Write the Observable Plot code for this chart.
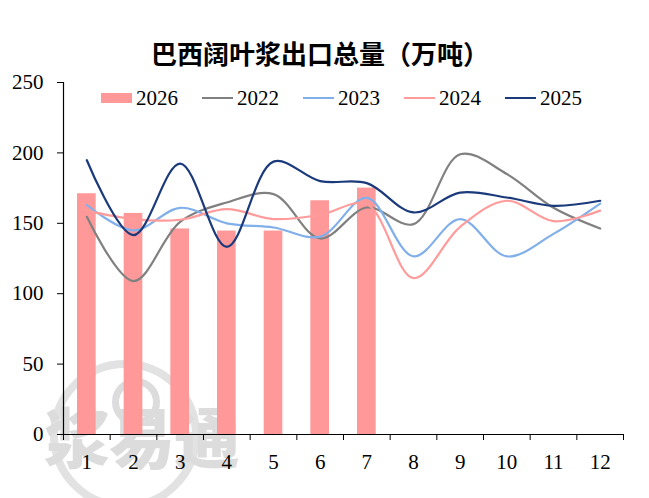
<!DOCTYPE html>
<html>
<head>
<meta charset="utf-8">
<script src="https://cdn.jsdelivr.net/npm/d3@7"></script>
<script src="https://cdn.jsdelivr.net/npm/@observablehq/plot@0.6"></script>
<style>
  html, body { margin: 0; padding: 0; background: #fff; }
  #wrap { position: relative; width: 649px; height: 498px; overflow: hidden; background: #fff; }
  #title { position: absolute; left: 0; width: 640px; top: 38px; text-align: center;
    font-family: "Noto Sans CJK SC", sans-serif; font-weight: bold; font-size: 26px; line-height: 30px; color: #000; z-index: 3; }
  #legend { position: absolute; left: 101px; top: 86px; height: 24px; display: flex; align-items: center; z-index: 3;
    font-family: "Liberation Serif", "Times New Roman", Times, "DejaVu Serif", serif; font-size: 21px; color: #000; }
  .item { display: flex; align-items: center; margin-right: 24px; }
  .sw { width: 31px; margin-right: 4px; }
  .wm { position: absolute; z-index: 0; }
  #wmtext { left: 44px; top: 394px; font-family: "Noto Sans CJK SC", sans-serif; font-weight: 900; font-size: 66px; line-height: 80px;
    color: #dcdcdc; letter-spacing: -1px; }
  #wmcircle { left: 50px; top: 360px; width: 150px; height: 150px; border-radius: 50%; border: 8px solid #e2e2e2; box-sizing: border-box; }
  #wmcircle2 { left: 112px; top: 378px; width: 48px; height: 48px; border-radius: 50%; border: 7px solid #dcdcdc; box-sizing: border-box; }
  #chart { position: absolute; left: 0; top: 0; z-index: 2; }
  #chart svg text { font-family: "Liberation Serif", "Times New Roman", Times, "DejaVu Serif", serif !important; }
</style>
</head>
<body>
<div id="wrap">
  <div class="wm" id="wmcircle"></div>
  <div class="wm" id="wmcircle2"></div>
  <div class="wm" id="wmtext">浆易通</div>
  <div id="title">巴西阔叶浆出口总量（万吨）</div>
  <div id="legend"></div>
  <div id="chart"></div>
</div>
<script>
const months = [1, 2, 3, 4, 5, 6, 7, 8, 9, 10, 11, 12];
const barMonths = [1, 2, 3, 4, 5, 6, 7];
const v2026 = [171, 157, 146, 144.5, 144.5, 166, 175];
const v2022 = [154.6, 109, 151, 164.8, 170.7, 139.2, 161.2, 149.4, 199, 185, 161, 146.3];
const v2023 = [163, 145, 161, 150, 147, 140.5, 168, 126.5, 153, 126.5, 142.5, 164];
const v2024 = [159, 153, 152.5, 160, 153, 156, 163.5, 111, 147.5, 166, 151.5, 159];
const v2025 = [194.8, 141.6, 192.4, 133.3, 193.8, 180, 178.5, 157.7, 171.8, 168.3, 162.4, 166];
const yTicks = [0, 50, 100, 150, 200, 250];
const xBounds = [0.5, 1.5, 2.5, 3.5, 4.5, 5.5, 6.5, 7.5, 8.5, 9.5, 10.5, 11.5, 12.5];

const seriesNames = ["2022", "2023", "2024", "2025"];
const seriesVals = [v2022, v2023, v2024, v2025];
const seriesColors = ["#808080", "#80AFEA", "#FF9B9B", "#1B3A7C"];

const bars = barMonths.map((m, i) => ({ m, v: v2026[i] }));
const lineData = seriesNames.flatMap((s, k) => months.map((m, i) => ({ s, m, v: seriesVals[k][i] })));
const serif = "Liberation Serif, Times New Roman, serif";

const chart = Plot.plot({
  width: 649,
  height: 498,
  marginLeft: 63,
  marginRight: 26,
  marginTop: 82,
  marginBottom: 64,
  style: { fontFamily: serif, fontSize: "21px", color: "#000", background: "transparent" },
  x: { type: "linear", domain: [0.5, 12.5] },
  y: { domain: [0, 250] },
  color: { domain: seriesNames, range: seriesColors },
  marks: [
    Plot.rectY(bars, { x1: d => d.m - 0.5, x2: d => d.m + 0.5, y: "v", fill: "#FF9999", insetLeft: 14, insetRight: 14 }),
    Plot.line(lineData, { x: "m", y: "v", z: "s", stroke: "s", strokeWidth: 2.2, curve: "catmull-rom" }),
    Plot.ruleY([0], { stroke: "#000", strokeWidth: 1.2 }),
    Plot.ruleX([0.5], { stroke: "#000", strokeWidth: 1.2 }),
    Plot.axisY({ ticks: yTicks, tickSize: 6, tickPadding: 14, label: null, fontSize: 21, fontFamily: serif, stroke: "#000" }),
    Plot.axisX({ ticks: xBounds, tickSize: 6, tickFormat: () => "", label: null, stroke: "#000" }),
    Plot.axisX({ ticks: months, tickSize: 0, tickPadding: 20, tickFormat: d => String(d), label: null, fontSize: 21, fontFamily: serif })
  ]
});
document.getElementById("chart").appendChild(chart);

// legend
const legend = document.getElementById("legend");
const items = [{ name: "2026", type: "bar", color: "#FF9999" }]
  .concat(seriesNames.map((n, i) => ({ name: n, type: "line", color: seriesColors[i] })));
items.forEach(it => {
  const el = document.createElement("div");
  el.className = "item";
  const sw = document.createElement("div");
  sw.className = "sw";
  sw.style.height = it.type === "bar" ? "10px" : "2px";
  sw.style.background = it.color;
  const tx = document.createElement("span");
  tx.textContent = it.name;
  el.appendChild(sw);
  el.appendChild(tx);
  legend.appendChild(el);
});
</script>
</body>
</html>
